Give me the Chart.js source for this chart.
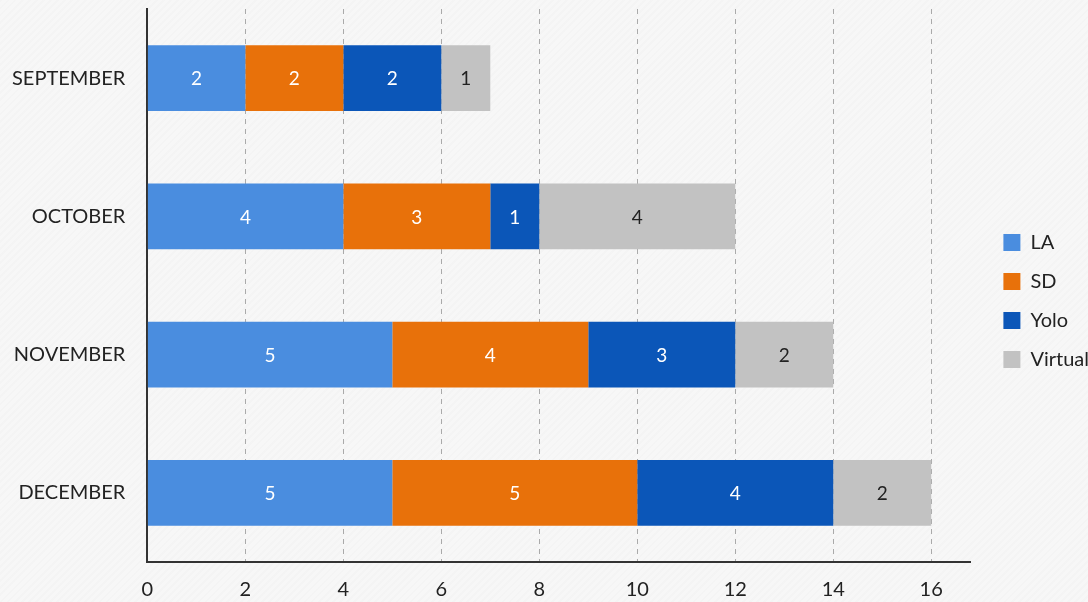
<!DOCTYPE html>
<html>
<head>
<meta charset="utf-8">
<script src="https://cdn.jsdelivr.net/npm/chart.js@4"></script>
<style>
  html, body { margin: 0; padding: 0; overflow: hidden; }
  body {
    width: 1088px; height: 602px;
    background-color: #f7f7f7;
    background-image: repeating-linear-gradient(135deg, rgba(0,0,0,0.012) 0px, rgba(0,0,0,0.012) 2px, rgba(255,255,255,0.02) 2px, rgba(255,255,255,0.02) 5px);
  }
  #wrap { width: 1099px; height: 602px; }
</style>
</head>
<body>
<div id="wrap"><canvas id="chart" width="1099" height="602"></canvas></div>
<script>
// months down the left side
const months = ["SEPTEMBER", "OCTOBER", "NOVEMBER", "DECEMBER"];

// one array per location
const laValues = [2, 4, 5, 5];
const sdValues = [2, 3, 4, 5];
const yoloValues = [2, 1, 3, 4];
const virtualValues = [1, 4, 2, 2];

const xTicks = [0, 2, 4, 6, 8, 10, 12, 14, 16];

// draws the number in the middle of every bar piece
const barValues = {
  id: "barValues",
  afterDatasetsDraw(chart) {
    const ctx = chart.ctx;
    ctx.save();
    ctx.font = "19px Lato";
    ctx.textAlign = "center";
    ctx.textBaseline = "middle";
    chart.data.datasets.forEach((ds, i) => {
      const meta = chart.getDatasetMeta(i);
      meta.data.forEach((bar, j) => {
        ctx.fillStyle = ds.label === "Virtual" ? "#222" : "#fff";
        ctx.fillText(ds.data[j], (bar.x + bar.base) / 2, bar.y + 1);
      });
    });
    ctx.restore();
  }
};

Chart.defaults.font.family = "Lato";
Chart.defaults.color = "#222";

new Chart(document.getElementById("chart").getContext("2d"), {
  type: "bar",
  data: {
    labels: months,
    datasets: [
      { label: "LA", data: laValues, backgroundColor: "#4a8ddf" },
      { label: "SD", data: sdValues, backgroundColor: "#e8710a" },
      { label: "Yolo", data: yoloValues, backgroundColor: "#0b56b8" },
      { label: "Virtual", data: virtualValues, backgroundColor: "#c2c2c2" }
    ]
  },
  options: {
    indexAxis: "y",
    responsive: false,
    animation: false,
    layout: { padding: { top: 0, left: 12, bottom: 0, right: 0 } },
    datasets: { bar: { categoryPercentage: 1, barPercentage: 0.475 } },
    plugins: {
      legend: {
        position: "right",
        labels: { boxWidth: 17, boxHeight: 17, padding: 19, font: { size: 20 }, color: "#222" }
      },
      tooltip: { enabled: false }
    },
    scales: {
      x: {
        stacked: true,
        min: 0,
        max: 16.8,
        afterBuildTicks: axis => { axis.ticks = xTicks.map(v => ({ value: v })); },
        afterFit: axis => { axis.height = 40; },
        ticks: { font: { size: 20 }, padding: 16, color: "#222" },
        grid: { color: "#aaa", lineWidth: 1, drawTicks: false },
        border: { color: "#333", width: 2, dash: [5, 5] }
      },
      y: {
        stacked: true,
        ticks: { font: { size: 20, lineHeight: 0.9 }, padding: 0, color: "#222" },
        grid: { drawOnChartArea: false, drawTicks: true, tickLength: 22, tickColor: "rgba(0,0,0,0)" },
        border: { color: "#333", width: 2 }
      },
      gap: {
        position: "right",
        type: "linear",
        ticks: { display: false },
        grid: { display: false, drawTicks: false },
        border: { display: false },
        afterFit: axis => { axis.width = 14; }
      }
    }
  },
  plugins: [barValues]
});
</script>
</body>
</html>
